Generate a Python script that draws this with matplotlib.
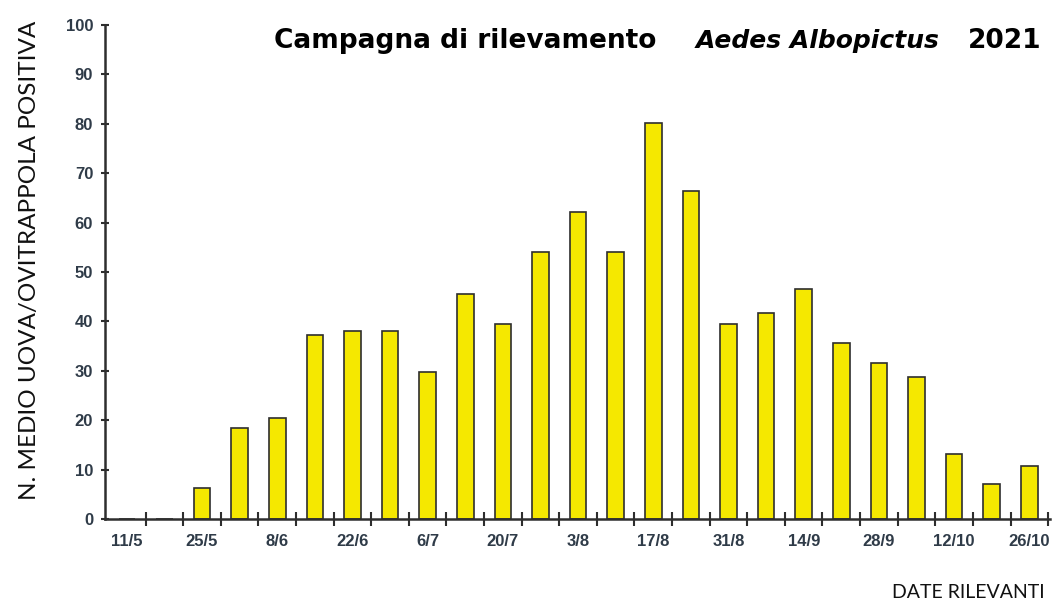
#!/usr/bin/env python3
"""Aedes Albopictus 2021 - mean eggs per positive ovitrap, weekly bars."""

import matplotlib
matplotlib.use("Agg")
import matplotlib.pyplot as plt

# weekly sampling dates (one slot per week), labels every two weeks
dates = ["11/5", "18/5", "25/5", "1/6", "8/6", "15/6", "22/6", "29/6",
         "6/7", "13/7", "20/7", "27/7", "3/8", "10/8", "17/8", "24/8",
         "31/8", "7/9", "14/9", "21/9", "28/9", "5/10", "12/10", "19/10", "26/10"]
eggs = [0, 0, 6.2, 18.4, 20.4, 37.2, 38.1, 38.1, 29.8, 45.6, 39.5, 54.1, 62.1,
        54.1, 80.1, 66.3, 39.4, 41.8, 46.6, 35.6, 31.5, 28.8, 13.2, 7.0, 10.7]
yticks = [0, 10, 20, 30, 40, 50, 60, 70, 80, 90, 100]

BAR_COLOR = "#F5E800"
AXIS_COLOR = "#2e2e2e"
TICK_TXT = "#2f3b48"

fig = plt.figure(figsize=(10.56, 6.11), dpi=100)
W, H = 1056, 611
ax = fig.add_axes([105 / W, 1 - 519 / H, (1050 - 105) / W, (519 - 25) / H])

x = list(range(len(dates)))
ax.bar(x, eggs, width=0.44, color=BAR_COLOR, edgecolor=AXIS_COLOR, linewidth=1.2,
       zorder=2)

ax.set_xlim(-0.58, len(dates) - 0.45)
ax.set_ylim(0, 100)

ax.spines["top"].set_visible(False)
ax.spines["right"].set_visible(False)
for s in ("left", "bottom"):
    ax.spines[s].set_color(AXIS_COLOR)
    ax.spines[s].set_linewidth(1.8)
    ax.spines[s].set_zorder(3)

ax.set_yticks(yticks)
ax.set_yticklabels([str(v) for v in yticks], fontsize=12, fontweight="bold",
                   color=TICK_TXT, family="Liberation Sans")
ax.tick_params(axis="y", direction="inout", length=6, width=1.5, color=AXIS_COLOR,
               pad=5.5)

ax.set_xticks(x[::2])
ax.set_xticklabels(dates[::2], fontsize=12, fontweight="bold", color=TICK_TXT,
                   family="Liberation Sans")
ax.set_xticks([i + 0.5 for i in x], minor=True)
ax.tick_params(axis="x", which="major", length=0, pad=11)
ax.tick_params(axis="x", which="minor", direction="inout", length=9.5, width=1.5,
               color=AXIS_COLOR)

# title in three pieces: plain bold, italic species name, year
ty = 1 - 48 / H
fig.text(274 / W, ty, "Campagna di rilevamento", fontsize=19, fontweight="bold",
         family="DejaVu Sans", va="baseline", ha="left")
fig.text(818 / W, ty, "Aedes Albopictus", fontsize=18, fontweight="bold",
         style="italic", family="DejaVu Sans", va="baseline", ha="center")
fig.text(1041 / W, ty, "2021", fontsize=19, fontweight="bold", family="DejaVu Sans",
         va="baseline", ha="right")

fig.text(30 / W, 1 - 260 / H, "N. MEDIO UOVA/OVITRAPPOLA POSITIVA", rotation=90,
         fontsize=17.5, family="Lato", va="center", ha="center", color="#111111")
fig.text(1045 / W, 1 - 593 / H, "DATE RILEVANTI", fontsize=14, family="Lato",
         va="center", ha="right", color="#111111")

fig.savefig("out.png", dpi=100, facecolor="white")
